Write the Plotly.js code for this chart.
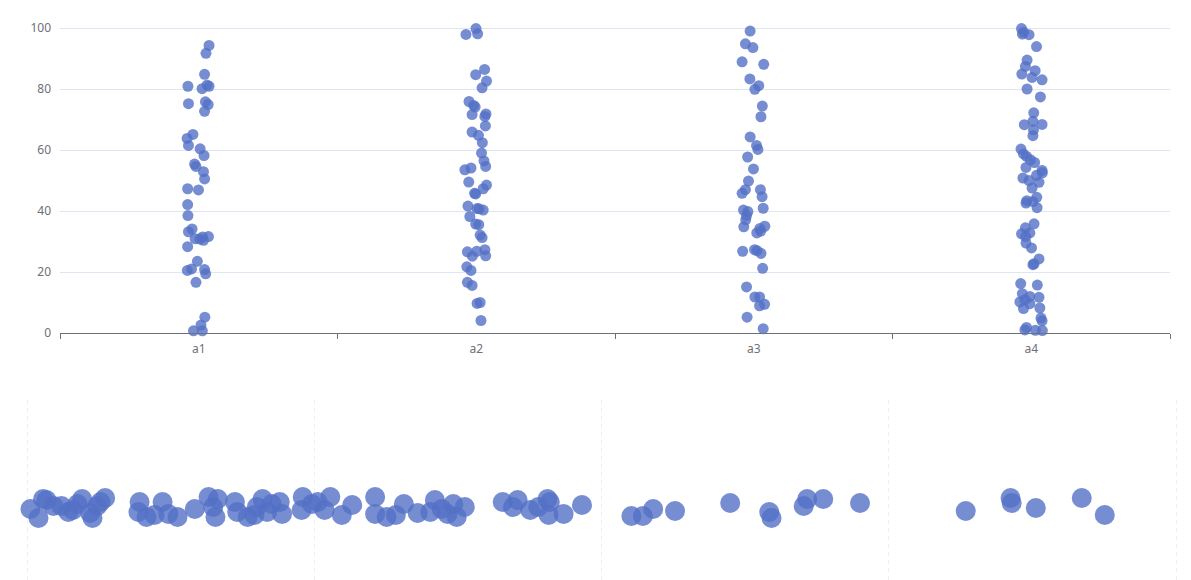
<!DOCTYPE html>
<html>
<head>
<meta charset="utf-8">
<script src="https://cdn.plot.ly/plotly-3.0.1.min.js"></script>
<style>html,body{margin:0;padding:0;background:#fff;}#chart{width:1191px;height:580px;}</style>
</head>
<body>
<div id="chart"></div>
<script>
// ---- Top strip chart data ----
const categories = ['a1', 'a2', 'a3', 'a4'];
const a1Values = [94.3,91.7,84.8,80.9,80.1,81.3,80.9,75.2,75.8,74.9,72.7,65.1,63.8,61.5,60.4,58.2,55.4,54.6,52.9,50.5,47.3,46.9,42.1,38.5,34.1,33.2,30.9,30.8,31.5,30.4,31.6,28.3,23.5,20.5,21.0,20.8,19.4,16.6,5.2,2.6,0.7,0.7];
const a1Jitter = [0.037,0.026,0.021,-0.039,0.012,0.030,0.037,-0.037,0.024,0.034,0.021,-0.021,-0.042,-0.037,0.005,0.019,-0.015,-0.010,0.017,0.021,-0.040,-0.001,-0.040,-0.039,-0.024,-0.037,-0.013,0.004,0.014,0.017,0.035,-0.040,-0.005,-0.041,-0.026,0.021,0.025,-0.010,0.022,0.008,-0.019,0.013];
const a2Values = [99.8,97.9,98.1,86.4,84.7,82.6,80.4,75.9,74.6,74.1,71.6,71.8,71.0,67.9,65.9,64.8,62.4,59.0,56.4,54.6,53.5,54.1,49.5,48.5,47.3,45.8,45.6,41.6,40.8,40.3,40.7,38.2,35.7,35.5,32.1,31.3,26.6,26.8,27.3,25.2,25.3,21.7,20.5,16.6,15.6,9.7,10.0,4.1];
const a2Jitter = [-0.001,-0.037,0.005,0.030,-0.002,0.037,0.021,-0.026,-0.009,-0.004,-0.015,0.035,0.031,0.033,-0.015,0.008,0.022,0.019,0.028,0.034,-0.041,-0.019,-0.027,0.037,0.025,-0.006,-0.002,-0.030,0.003,0.025,0.010,-0.023,-0.002,0.009,0.014,0.021,-0.032,0.002,0.031,-0.014,0.034,-0.034,-0.019,-0.032,-0.015,0.003,0.014,0.017];
const a3Values = [99.0,94.8,93.6,88.9,88.1,83.3,81.1,79.9,74.4,70.9,64.3,61.5,60.2,57.7,53.8,49.8,47.0,47.0,45.8,44.7,40.9,40.3,39.8,38.5,37.1,34.8,35.0,34.3,33.4,32.8,26.8,27.3,27.0,26.1,21.2,15.1,11.8,11.8,9.4,8.9,5.2,1.4];
const a3Jitter = [-0.013,-0.030,-0.003,-0.042,0.036,-0.014,0.018,0.004,0.031,0.026,-0.013,0.010,0.015,-0.022,-0.001,-0.019,0.024,-0.030,-0.042,0.030,0.034,-0.037,-0.021,-0.026,-0.029,-0.036,0.040,0.022,0.025,0.011,-0.040,0.003,0.012,0.026,0.032,-0.026,0.004,0.021,0.039,0.021,-0.024,0.034];
const a4Values = [99.8,98.0,97.8,98.6,93.9,89.5,87.4,86.0,84.9,83.8,83.0,80.0,77.4,72.2,68.3,69.4,68.4,66.6,64.7,60.3,58.7,57.9,56.8,55.9,54.3,53.3,52.5,51.7,50.8,50.0,49.4,47.5,43.4,44.5,43.1,42.6,41.1,35.8,34.5,32.5,32.8,31.6,29.5,27.9,24.3,22.4,22.7,16.2,15.7,12.9,12.0,11.7,10.2,10.9,9.6,8.0,8.2,4.9,4.0,1.8,1.0,0.9,0.8];
const a4Jitter = [-0.035,-0.032,-0.008,-0.027,0.019,-0.015,-0.021,0.014,-0.034,0.003,0.039,-0.015,0.033,0.009,-0.025,0.006,0.039,0.008,0.006,-0.037,-0.028,-0.017,-0.003,0.012,-0.019,0.039,0.040,0.019,-0.030,-0.008,0.028,0.003,-0.016,0.020,0.006,-0.019,0.021,0.010,-0.021,-0.035,-0.005,-0.020,-0.019,0.001,0.028,0.006,0.010,-0.038,0.022,-0.032,-0.005,0.028,-0.041,-0.023,-0.005,-0.028,0.031,0.035,0.039,-0.017,-0.023,0.015,0.040];
const yTicks = [0, 20, 40, 60, 80, 100];

// ---- Bottom single-axis data ----
const singleValues = [0.3,1.0,1.4,1.7,2.3,3.0,3.6,4.0,4.4,4.8,5.5,5.7,6.1,6.4,6.8,
  9.8,9.7,10.4,11.1,11.8,12.3,13.1,14.6,15.8,16.2,16.4,16.6,18.1,18.3,19.2,19.8,20.0,20.5,20.9,21.3,22.0,22.2,23.9,24.0,
  24.8,25.3,25.9,26.4,27.4,28.3,30.3,30.3,31.3,32.1,32.8,34.0,35.1,35.5,36.1,36.6,37.1,37.4,38.1,
  41.4,42.3,42.7,43.8,44.5,45.3,45.5,45.4,46.7,48.3,
  52.6,53.6,54.5,56.4,61.2,64.6,64.8,67.6,67.9,69.3,72.5,81.7,85.6,85.7,87.8,91.8,93.8];
const singleJitter = [-2,-11,8,7,1,1,-5,-3,3,8,-6,-11,1,5,9,
  5,-5,-10,-8,5,-7,-10,-2,10,0,-10,8,5,-5,-10,-8,0,8,-5,3,5,-7,-3,10,
  3,5,-3,10,-8,2,10,-7,-10,-8,3,-6,-5,7,-2,-7,3,-10,0,
  5,0,7,-3,0,8,5,-8,-7,2,
  -9,-9,-2,-4,4,-5,-11,1,8,8,4,-4,9,4,-1,9,-8];

const seriesValues = [a1Values, a2Values, a3Values, a4Values];
const seriesJitter = [a1Jitter, a2Jitter, a3Jitter, a4Jitter];

const stripX = [], stripY = [];
seriesValues.forEach((vals, ci) => {
  vals.forEach((v, i) => {
    stripX.push(ci + (seriesJitter[ci][i] || 0));
    stripY.push(v);
  });
});

const COLOR = '#5470c6';
const FONT = 'Noto Sans, DejaVu Sans, sans-serif';

// geometry (pixels)
const W = 1191, H = 580;
const ML = 20, MR = 8;
const PW = W - ML - MR;
const topLeft = 60, topRight = 1170;       // top grid horizontal extent
const yZeroPx = 333, yHundredPx = 28;      // top value axis
const yMaxVal = 101;                       // a bit above 100 so the 100 gridline shows
const pxPerUnit = (yZeroPx - yHundredPx) / 100;
const yTopPx = yZeroPx - yMaxVal * pxPerUnit;
const sLeft = 27, sRight = 1176;           // single axis extent
const sUnit = (sRight - sLeft) / 100;
const sRange = [-(sLeft - ML) / sUnit, 100 + (W - MR - sRight) / sUnit];

const traces = [
  {
    type: 'scatter', mode: 'markers', cliponaxis: false,
    x: stripX, y: stripY, xaxis: 'x', yaxis: 'y',
    marker: {color: COLOR, size: 11, opacity: 0.8, line: {width: 0}},
    hoverinfo: 'y', showlegend: false
  },
  {
    type: 'scatter', mode: 'markers', cliponaxis: false,
    x: singleValues, y: singleJitter, xaxis: 'x2', yaxis: 'y2',
    marker: {color: COLOR, size: 20, opacity: 0.8, line: {width: 0}},
    hoverinfo: 'x', showlegend: false
  },
  {
    type: 'scatter', mode: 'markers', x: [0], y: [0], xaxis: 'x3', yaxis: 'y',
    marker: {opacity: 0}, hoverinfo: 'skip', showlegend: false
  }
];

const topDomainX = [(topLeft - ML) / PW, (topRight - ML) / PW];
const layout = {
  width: W, height: H,
  margin: {l: ML, r: MR, t: 0, b: 0},
  paper_bgcolor: '#ffffff', plot_bgcolor: '#ffffff',
  font: {family: FONT, size: 12, color: '#6E7079'},
  showlegend: false,
  xaxis: {
    domain: topDomainX, anchor: 'y',
    range: [-0.5, categories.length - 0.5],
    tickvals: categories.map((c, i) => i), ticktext: categories,
    ticks: '', showgrid: false, zeroline: false, showline: false,
    tickfont: {family: FONT, size: 12, color: '#6E7079'},
    ticklabelstandoff: 7, fixedrange: true
  },
  xaxis3: {
    domain: topDomainX, anchor: 'y', overlaying: 'x',
    range: [-0.5, categories.length - 0.5],
    tickvals: categories.map((c, i) => i - 0.5).concat([categories.length - 0.5]),
    ticks: 'outside', ticklen: 5, tickwidth: 1, tickcolor: '#6E7079',
    showticklabels: false, showgrid: false, zeroline: false,
    showline: true, linecolor: '#6E7079', linewidth: 1, fixedrange: true
  },
  yaxis: {
    domain: [(H - yZeroPx) / H, (H - yTopPx) / H], anchor: 'x',
    range: [0, yMaxVal], tickvals: yTicks,
    ticks: '', showgrid: true, gridcolor: '#E0E6F1', gridwidth: 1,
    zeroline: false, showline: false,
    tickfont: {family: FONT, size: 12, color: '#6E7079'},
    ticklabelstandoff: 8, fixedrange: true
  },
  xaxis2: {
    domain: [0, 1], anchor: 'y2',
    range: sRange, tickvals: [0, 25, 50, 75, 100],
    showgrid: true, gridcolor: '#EDEFF4', gridwidth: 1, griddash: '4px,4px',
    showticklabels: false, ticks: '', zeroline: false, showline: false, fixedrange: true
  },
  yaxis2: {
    domain: [0, (H - 400) / H], anchor: 'x2',
    range: [-73, 107],
    showgrid: false, showticklabels: false, ticks: '', zeroline: false, showline: false, fixedrange: true
  }
};

Plotly.newPlot('chart', traces, layout, {displayModeBar: false, staticPlot: true});
</script>
</body>
</html>
